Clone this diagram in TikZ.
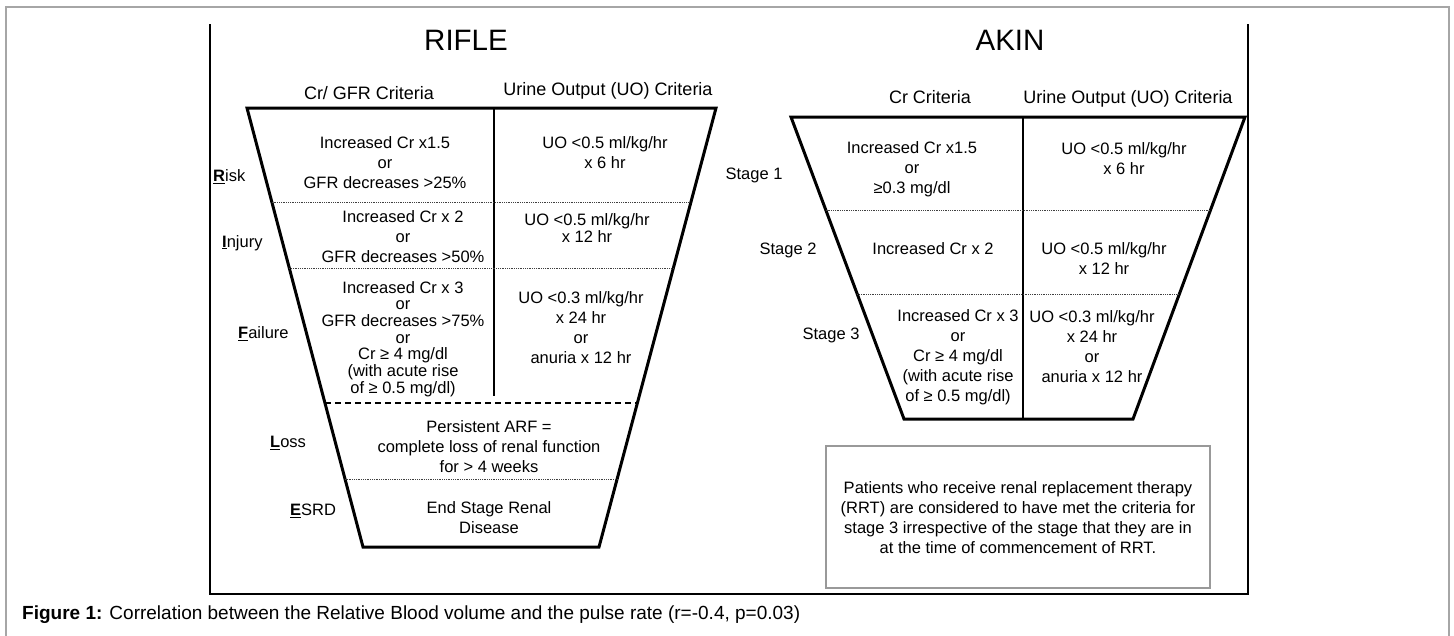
\documentclass[tikz,border=0pt]{standalone}
\usepackage{fontspec}
\setmainfont{Liberation Sans}
\usetikzlibrary{calc}
\begin{document}
\begin{tikzpicture}[x=1pt,y=-1pt,
  cell/.style={align=center,inner sep=0pt,font=\fontsize{16.5}{20}\selectfont},
  tightcell/.style={align=center,inner sep=0pt,font=\fontsize{16.5}{16.7}\selectfont},
  lbl/.style={inner sep=0pt,font=\fontsize{16.5}{20}\selectfont},
  hdr/.style={inner sep=0pt,font=\fontsize{18}{22}\selectfont},
  ttl/.style={inner sep=0pt,font=\fontsize{29.5}{34}\selectfont},
  funnel/.style={line width=3pt,line join=miter},
  divider/.style={line width=1.1pt},
  dotline/.style={line width=0.9pt,black!75,dash pattern=on 0.9pt off 0.9pt},
  dashline/.style={line width=1.2pt,dash pattern=on 6pt off 4pt},
  frame/.style={line width=2.5pt},
  outer/.style={line width=1.5pt,black!35},
  notebox/.style={line width=1.3pt,black!40}
]
\useasboundingbox (0,0) rectangle (1454,635);
\fill[white] (0,0) rectangle (1454,635);
% outer border
\draw[outer] (6,650) -- (6,7) -- (1449,7) -- (1449,650);
% inner frame (open at top)
\draw[frame] (210,24) -- (210,594) -- (1248,594) -- (1248,24);

% ---------------- RIFLE ----------------
\node[ttl] (rifle) at (466,40) {RIFLE};
\node[hdr] (rhcr) at (369,93) {Cr/ GFR Criteria};
\node[hdr] (rhuo) at (608,91) {Urine Output (UO) Criteria};

\coordinate (rTL) at (247,108);
\coordinate (rTR) at (716,108);
\coordinate (rBR) at (599,547);
\coordinate (rBL) at (363,547);
\draw[funnel] (rTL) -- (rTR) -- (rBR) -- (rBL) -- cycle;

\coordinate (rdT) at (494,108);
\coordinate (rdB) at (494,396);
\draw[divider] (rdT) -- (rdB);

\coordinate (r1l) at ($(rTL)!0.2141!(rBL)$);
\coordinate (r1r) at ($(rTR)!0.2141!(rBR)$);
\coordinate (r2l) at ($(rTL)!0.3645!(rBL)$);
\coordinate (r2r) at ($(rTR)!0.3645!(rBR)$);
\coordinate (r3l) at ($(rTL)!0.672!(rBL)$);
\coordinate (r3r) at ($(rTR)!0.672!(rBR)$);
\coordinate (r4l) at ($(rTL)!0.8451!(rBL)$);
\coordinate (r4r) at ($(rTR)!0.8451!(rBR)$);
\draw[dotline] (r1l) -- (r1r);
\draw[dotline] (r2l) -- (r2r);
\draw[dashline] (r3l) -- (r3r);
\draw[dotline] (r4l) -- (r4r);

\node[lbl,anchor=west] (risk) at (213,177) {\underline{\textbf{R}}isk};
\node[lbl,anchor=west] (injury) at (222,243) {\underline{\textbf{I}}njury};
\node[lbl,anchor=west] (failure) at (238,334) {\underline{\textbf{F}}ailure};
\node[lbl,anchor=west] (loss) at (270,443) {\underline{\textbf{L}}oss};
\node[lbl,anchor=west] (esrd) at (290,511) {\underline{\textbf{E}}SRD};

\node[cell] (rcr1) at (385,163) {Increased Cr x1.5\\or\\GFR decreases >25\%};
\node[cell] (ruo1) at (605,153) {UO <0.5 ml/kg/hr\\x 6 hr};
\node[cell] (rcr2) at (403,237) {Increased Cr x 2\\or\\GFR decreases >50\%};
\node[align=center,inner sep=0pt,font=\fontsize{16.5}{15}\selectfont] (ruo2) at (587,228) {UO <0.5 ml/kg/hr\\x 12 hr};
\node[tightcell] (rcr3) at (403,339) {Increased Cr x 3\\or\\GFR decreases >75\%\\or\\Cr ≥ 4 mg/dl\\(with acute rise\\of ≥ 0.5 mg/dl)};
\node[cell] (ruo3) at (581,328) {UO <0.3 ml/kg/hr\\x 24 hr\\or\\anuria x 12 hr};
\node[cell] (rloss) at (489,447) {Persistent ARF =\\complete loss of renal function\\for > 4 weeks};
\node[cell] (resrd) at (489,518) {End Stage Renal\\Disease};

% ---------------- AKIN ----------------
\node[ttl] (akin) at (1010,40) {AKIN};
\node[hdr] (ahcr) at (930,97) {Cr Criteria};
\node[hdr] (ahuo) at (1128,99) {Urine Output (UO) Criteria};

\coordinate (aTL) at (791,117);
\coordinate (aTR) at (1245,117);
\coordinate (aBR) at (1133,419);
\coordinate (aBL) at (904,419);
\draw[funnel] (aTL) -- (aTR) -- (aBR) -- (aBL) -- cycle;

\coordinate (adT) at (1023,117);
\coordinate (adB) at (1023,419);
\draw[divider] (adT) -- (adB);

\coordinate (a1l) at ($(aTL)!0.308!(aBL)$);
\coordinate (a1r) at ($(aTR)!0.308!(aBR)$);
\coordinate (a2l) at ($(aTL)!0.586!(aBL)$);
\coordinate (a2r) at ($(aTR)!0.586!(aBR)$);
\draw[dotline] (a1l) -- (a1r);
\draw[dotline] (a2l) -- (a2r);

\node[lbl] (st1) at (754,175) {Stage 1};
\node[lbl] (st2) at (788,250) {Stage 2};
\node[lbl] (st3) at (831,335) {Stage 3};

\node[cell] (acr1) at (912,169) {Increased Cr x1.5\\or\\≥0.3 mg/dl};
\node[cell] (auo1) at (1124,159) {UO <0.5 ml/kg/hr\\x 6 hr};
\node[cell] (acr2) at (933,249) {Increased Cr x 2};
\node[cell] (auo2) at (1104,259) {UO <0.5 ml/kg/hr\\x 12 hr};
\node[cell] (acr3) at (958,357) {Increased Cr x 3\\or\\Cr ≥ 4 mg/dl\\(with acute rise\\of ≥ 0.5 mg/dl)};
\node[cell] (auo3) at (1092,347) {UO <0.3 ml/kg/hr\\x 24 hr\\or\\anuria x 12 hr};

\node[notebox,draw,minimum width=384pt,minimum height=142pt,inner sep=0pt] (rrtbox) at (1018,517) {};
\node[cell] (rrt) at (1018,518) {Patients who receive renal replacement therapy\\(RRT) are considered to have met the criteria for\\stage 3 irrespective of the stage that they are in\\at the time of commencement of RRT.};

% caption
\node[inner sep=0pt,anchor=west,font=\fontsize{19}{22}\selectfont] (caption) at (22,615) {\textbf{Figure 1:} Correlation between the Relative Blood volume and the pulse rate (r=-0.4, p=0.03)};
\end{tikzpicture}
\end{document}
